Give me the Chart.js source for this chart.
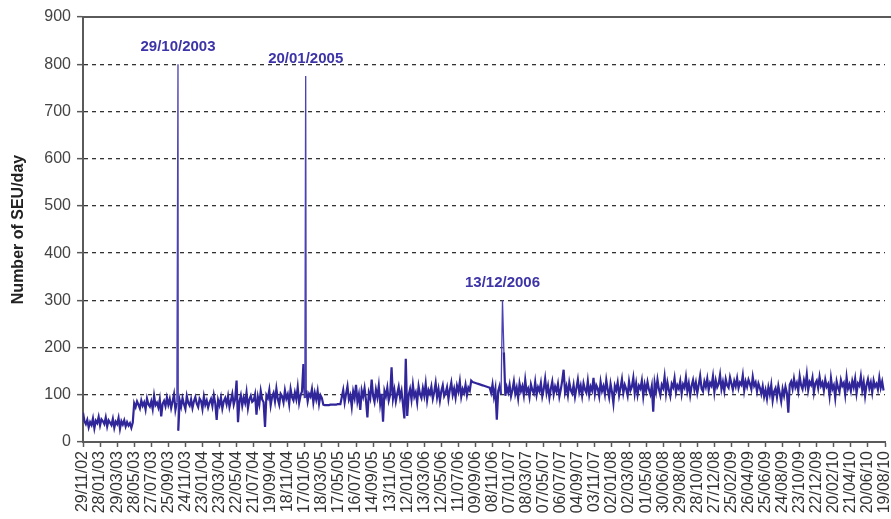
<!DOCTYPE html>
<html>
<head>
<meta charset="utf-8">
<script src="https://cdn.jsdelivr.net/npm/chart.js@4.4.1/dist/chart.umd.min.js"></script>
<style>
    html, body { margin: 0; padding: 0; background: #fff; }
    #chart { display: block; }
</style>
</head>
<body>
<canvas id="chart" width="891" height="519"></canvas>
<script>
// Tick labels along the date axis (one every 60 days from 29/11/02)
const tickLabels = [
    "29/11/02", "28/01/03", "29/03/03", "28/05/03", "27/07/03", "25/09/03", "24/11/03", "23/01/04",
    "23/03/04", "22/05/04", "21/07/04", "19/09/04", "18/11/04", "17/01/05", "18/03/05", "17/05/05",
    "16/07/05", "14/09/05", "13/11/05", "12/01/06", "13/03/06", "12/05/06", "11/07/06", "09/09/06",
    "08/11/06", "07/01/07", "08/03/07", "07/05/07", "06/07/07", "04/09/07", "03/11/07", "02/01/08",
    "02/03/08", "01/05/08", "30/06/08", "29/08/08", "28/10/08", "27/12/08", "25/02/09", "26/04/09",
    "25/06/09", "24/08/09", "23/10/09", "22/12/09", "20/02/10", "21/04/10", "20/06/10", "19/08/10"
];
const TICK_STEP = 60;   // days between tick labels
const SAMPLE_STEP = 5;  // days between values below

// SEU/day, one value every 5 days from 29/11/02
const seuValues = [
    62, 44, 38, 47, 31, 42, 36, 50, 29, 45, 40, 53, 35, 48, 44, 38, 52, 33, 46, 41,
    36, 49, 30, 43, 38, 51, 28, 44, 37, 46, 33, 42, 35, 40, 30, 41, 82, 74, 86, 79,
    71, 88, 77, 84, 69, 92, 80, 75, 86, 70, 98, 78, 83, 73, 90, 54, 81, 87, 76, 94,
    79, 91, 72, 86, 101, 68, 84, 24, 88, 75, 93, 80, 70, 97, 83, 77, 90, 72, 86, 95,
    81, 74, 92, 87, 70, 96, 79, 88, 73, 84, 91, 76, 99, 82, 47, 89, 78, 94, 71, 86,
    93, 80, 97, 74, 88, 102, 79, 91, 130, 42, 86, 99, 77, 94, 83, 105, 72, 90, 98, 85,
    88, 101, 58, 95, 80, 108, 90, 84, 32, 99, 93, 110, 78, 96, 104, 86, 113, 91, 79, 102,
    97, 84, 109, 92, 101, 80, 112, 95, 88, 105, 91, 116, 83, 99, 107, 165, 93, 110, 86, 102,
    96, 112, 84, 104, 90, 108, 81, 99, 93, 79, 78, 78, 78, 78, 79, 79, 79, 79, 79, 80,
    80, 80, 95, 110, 84, 102, 118, 90, 99, 75, 107, 93, 121, 86, 101, 68, 109, 96, 114, 88,
    52, 104, 93, 132, 98, 85, 111, 95, 119, 81, 102, 43, 108, 97, 115, 88, 100, 158, 92, 110,
    86, 103, 117, 94, 108, 80, 50, 176, 55, 99, 112, 90, 121, 96, 105, 84, 118, 101, 93, 114,
    98, 123, 89, 110, 102, 117, 92, 106, 125, 95, 112, 88, 108, 120, 97, 104, 116, 91, 111, 126,
    100, 113, 94, 119, 107, 128, 96, 112, 104, 121, 99, 115, 109, 130, 127, 126, 125, 124, 123, 122,
    121, 120, 119, 118, 117, 116, 115, 104, 122, 96, 113, 47, 108, 119, 101, 112, 190, 98, 116, 105,
    121, 97, 110, 128, 102, 115, 93, 124, 108, 118, 99, 131, 106, 113, 95, 122, 110, 103, 127, 100,
    116, 108, 125, 97, 112, 134, 104, 119, 94, 113, 128, 101, 117, 107, 123, 96, 111, 130, 153, 105,
    118, 99, 126, 110, 103, 121, 96, 114, 132, 106, 119, 98, 124, 111, 104, 129, 100, 117, 109, 136,
    102, 120, 113, 97, 127, 108, 118, 101, 131, 111, 95, 123, 106, 82, 119, 110, 126, 99, 115, 133,
    104, 121, 112, 98, 128, 109, 117, 136, 103, 124, 100, 119, 113, 130, 97, 122, 108, 127, 111, 101,
    118, 64, 125, 107, 132, 112, 99, 121, 114, 138, 103, 126, 110, 97, 123, 116, 135, 105, 120, 113,
    129, 102, 122, 115, 137, 108, 124, 99, 119, 131, 111, 126, 104, 121, 140, 113, 107, 128, 117, 134,
    110, 125, 119, 139, 106, 130, 116, 123, 142, 112, 127, 108, 133, 120, 115, 137, 124, 111, 129, 118,
    135, 114, 126, 121, 141, 109, 128, 117, 132, 123, 112, 138, 119, 126, 107, 124, 115, 102, 118, 96,
    110, 92, 116, 101, 121, 88, 107, 114, 95, 119, 103, 86, 112, 98, 117, 104, 62, 121, 128, 113,
    134, 116, 125, 108, 139, 120, 112, 131, 118, 143, 110, 127, 121, 136, 105, 124, 130, 114, 138, 119,
    126, 109, 132, 117, 123, 98, 135, 112, 120, 94, 128, 115, 106, 131, 119, 125, 101, 137, 113, 122,
    108, 129, 116, 134, 103, 124, 119, 139, 110, 127, 98, 121, 133, 114, 126, 105, 130, 117, 123, 111,
    136, 115, 128, 109
];

// Solar event peaks
const peakDates = ["29/10/2003", "20/01/2005", "13/12/2006"];
const peakValues = [800, 775, 300];

const startDate = new Date(2002, 10, 29);

function dayOf(str) {
    let [d, m, y] = str.split("/").map(Number);
    return Math.round((new Date(y, m - 1, d) - startDate) / 86400000);
}

let peakDays = peakDates.map(dayOf);

// Build the point list
let points = seuValues
    .map((v, i) => ({ x: i * SAMPLE_STEP, y: v }))
    .filter(p => !peakDays.includes(p.x));
peakDays.forEach((d, i) => points.push({ x: d, y: peakValues[i] }));
points.sort((a, b) => a.x - b.x);

const lineColor = "#30269a";
const spikeColor = "#4a41b4";
const peakTextColor = "#3d34a8";
const axisColor = "#5a5a5a";
const fontFamily = "'Liberation Sans', Arial, sans-serif";

// segments going up to / down from a peak are drawn thinner
function isSpike(seg) {
    return peakDays.includes(seg.p0.parsed.x) || peakDays.includes(seg.p1.parsed.x);
}

// Solid frame line at the top and the peak date captions
const extrasPlugin = {
    id: "extras",
    afterDraw(chart) {
        let ctx = chart.ctx;
        let area = chart.chartArea;
        let xs = chart.scales.x;
        let ys = chart.scales.y;

        ctx.save();
        ctx.strokeStyle = axisColor;
        ctx.lineWidth = 2;
        ctx.beginPath();
        ctx.moveTo(area.left, area.top);
        ctx.lineTo(chart.width, area.top);
        ctx.stroke();

        ctx.fillStyle = peakTextColor;
        ctx.font = "bold 15px " + fontFamily;
        ctx.textAlign = "center";
        ctx.textBaseline = "bottom";
        peakDays.forEach((d, i) => {
            ctx.fillText(peakDates[i], xs.getPixelForValue(d), ys.getPixelForValue(peakValues[i]) - 10);
        });
        ctx.restore();
    }
};

let ctx = document.getElementById("chart").getContext("2d");

new Chart(ctx, {
    type: "line",
    data: {
        datasets: [{
            data: points,
            borderColor: lineColor,
            borderWidth: 2.2,
            pointRadius: 0,
            tension: 0,
            fill: false,
            segment: {
                borderWidth: (seg) => isSpike(seg) ? 1.3 : 2.2,
                borderColor: (seg) => isSpike(seg) ? spikeColor : lineColor
            }
        }]
    },
    options: {
        responsive: false,
        animation: false,
        parsing: false,
        layout: { padding: { top: 17, left: 9, right: 6, bottom: 0 } },
        plugins: {
            legend: { display: false },
            tooltip: { enabled: false }
        },
        scales: {
            x: {
                type: "linear",
                min: 0,
                max: (tickLabels.length - 1) * TICK_STEP,
                afterFit: (scale) => {
                    scale.height = 77;
                    scale.paddingRight = 0;
                },
                border: { color: axisColor, width: 2 },
                grid: {
                    drawOnChartArea: false,
                    tickLength: 5,
                    tickColor: axisColor,
                    tickWidth: 1.5
                },
                ticks: {
                    stepSize: TICK_STEP,
                    autoSkip: false,
                    maxRotation: 90,
                    minRotation: 90,
                    padding: 4,
                    color: "#333",
                    font: { family: fontFamily, size: 16 },
                    callback: (value) => tickLabels[Math.round(value / TICK_STEP)]
                }
            },
            y: {
                min: 0,
                max: 900,
                afterFit: (scale) => { scale.width = 74; },
                border: { color: axisColor, width: 2, dash: [4, 4] },
                grid: {
                    color: (c) => (c.tick.value === 0 || c.tick.value === 900) ? "rgba(0,0,0,0)" : "#333",
                    lineWidth: 1.3,
                    tickLength: 6,
                    tickColor: axisColor,
                    tickWidth: 1.5,
                    tickBorderDash: []
                },
                ticks: {
                    stepSize: 100,
                    padding: 6,
                    color: "#444",
                    font: { family: fontFamily, size: 16 }
                },
                title: {
                    display: true,
                    text: "Number of SEU/day",
                    color: "#222",
                    padding: { top: 0, bottom: 0 },
                    font: { family: fontFamily, size: 16, weight: "bold" }
                }
            }
        }
    },
    plugins: [extrasPlugin]
});
</script>
</body>
</html>
